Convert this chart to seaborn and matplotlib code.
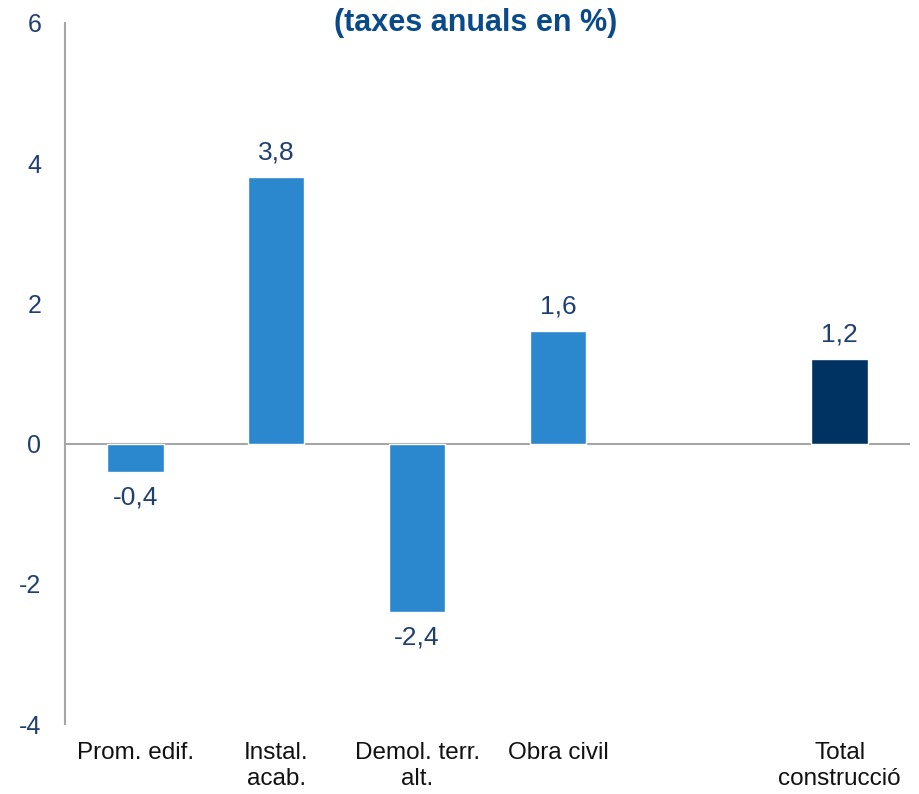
import numpy as np
import pandas as pd
import matplotlib
matplotlib.use("Agg")
import matplotlib.pyplot as plt
import seaborn as sns

# Data
categories = ["Prom. edif.", "Instal.\nacab.", "Demol. terr.\nalt.", "Obra civil", " ", "Total\nconstrucció"]
values = [-0.4, 3.8, -2.4, 1.6, np.nan, 1.2]
bar_colors = ["#2B88CF", "#2B88CF", "#2B88CF", "#2B88CF", "#2B88CF", "#003262"]
y_ticks = [-4, -2, 0, 2, 4, 6]
title = "(taxes anuals en %)"

sns.set_style("white")
plt.rcParams['font.family'] = ['Liberation Sans', 'DejaVu Sans']

df = pd.DataFrame({"cat": categories, "val": values})

fig = plt.figure(figsize=(9.2, 7.94), dpi=100)
ax = fig.add_axes([65 / 920, 70 / 794, 845 / 920, 701 / 794])

sns.barplot(data=df, x="cat", y="val", hue="cat", palette=bar_colors,
            order=categories, hue_order=categories, legend=False,
            width=0.4, saturation=1, ax=ax)

ax.set_ylim(-4, 6)
ax.set_yticks(y_ticks)
ax.set_yticklabels([str(t) for t in y_ticks], color="#1F3F6E", fontsize=18)
ax.tick_params(axis="y", length=0, pad=17)
ax.tick_params(axis="x", length=0, pad=13)
for lbl in ax.get_xticklabels():
    lbl.set_fontsize(17.5)
    lbl.set_color("#111111")
    lbl.set_linespacing(1.25)
ax.set_xlabel("")
ax.set_ylabel("")

for s in ["top", "right", "bottom"]:
    ax.spines[s].set_visible(False)
ax.spines["left"].set_color("#A6A6A6")
ax.spines["left"].set_linewidth(1.5)
ax.axhline(0, color="#A6A6A6", linewidth=1.5, zorder=0)

# value labels
for i, v in enumerate(values):
    if np.isnan(v):
        continue
    txt = f"{v:.1f}".replace(".", ",")
    if v >= 0:
        ax.annotate(txt, (i, v), xytext=(0, 9), textcoords="offset points",
                    ha="center", va="bottom", fontsize=19, color="#1F3F6E")
    else:
        ax.annotate(txt, (i, v), xytext=(0, -10), textcoords="offset points",
                    ha="center", va="top", fontsize=19, color="#1F3F6E")

fig.text(476 / 920, 1 - 23 / 794, title, ha="center", va="center",
         fontsize=22, fontweight="bold", color="#0A4A8A")

fig.savefig("out.png", dpi=100)
